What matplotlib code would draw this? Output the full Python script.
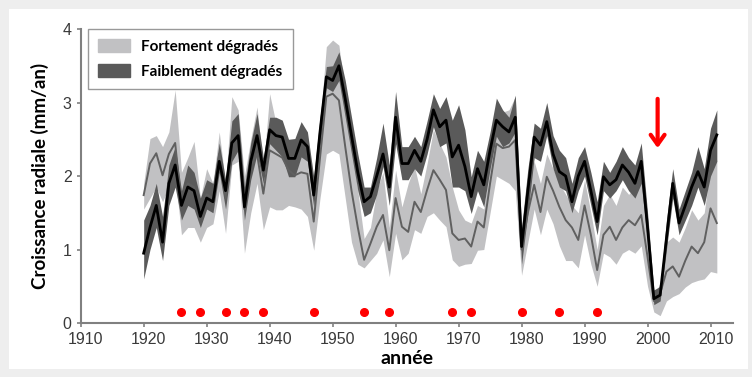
import numpy as np
import matplotlib
matplotlib.use("Agg")
import matplotlib.pyplot as plt
import matplotlib.patches as mpatches
import matplotlib.transforms as mtransforms

# year axis of the series
annees = np.arange(1920, 2012)

# faiblement dégradés (dark band): mean, upper, lower
faible_moy = [0.95, 1.30, 1.60, 1.10, 1.90, 2.15, 1.60, 1.85, 1.80, 1.45,
              1.70, 1.65, 2.20, 1.80, 2.45, 2.55, 1.58, 2.20, 2.55, 2.08,
              2.63, 2.55, 2.53, 2.24, 2.24, 2.49, 2.40, 1.74, 2.60, 3.35,
              3.30, 3.50, 3.05, 2.55, 2.05, 1.65, 1.72, 2.00, 2.30, 1.85,
              2.80, 2.17, 2.17, 2.35, 2.20, 2.50, 2.90, 2.67, 2.76, 2.26,
              2.42, 2.13, 1.72, 2.10, 1.88, 2.35, 2.76, 2.67, 2.60, 2.80,
              1.04, 1.80, 2.53, 2.42, 2.74, 2.30, 2.06, 2.00, 1.65, 2.00,
              2.20, 1.80, 1.38, 1.99, 1.88, 1.95, 2.15, 2.05, 1.90, 2.20,
              1.30, 0.33, 0.38, 1.15, 1.90, 1.36, 1.60, 1.85, 2.06, 1.85,
              2.35, 2.56]
faible_haut = [1.40, 1.60, 1.90, 1.45, 2.15, 2.40, 1.80, 2.15, 2.05, 1.70,
               1.95, 1.90, 2.45, 1.95, 2.75, 2.85, 1.85, 2.45, 2.85, 2.25,
               2.80, 2.80, 2.76, 2.50, 2.51, 2.74, 2.60, 1.99, 2.80, 3.49,
               3.50, 3.69, 3.30, 2.80, 2.30, 1.85, 1.85, 2.25, 2.72, 2.15,
               3.15, 2.40, 2.40, 2.54, 2.40, 2.75, 3.12, 2.92, 3.08, 2.76,
               2.97, 2.63, 1.99, 2.35, 2.20, 2.60, 3.06, 2.90, 2.80, 3.10,
               1.30, 2.10, 2.72, 2.65, 3.00, 2.55, 2.35, 2.25, 1.90, 2.25,
               2.40, 2.05, 1.65, 2.20, 2.05, 2.20, 2.40, 2.25, 2.15, 2.45,
               1.50, 0.45, 0.50, 1.40, 2.10, 1.55, 1.80, 2.05, 2.40, 2.10,
               2.65, 2.90]
faible_bas = [0.60, 1.00, 1.30, 0.85, 1.60, 1.85, 1.40, 1.60, 1.55, 1.30,
              1.55, 1.50, 2.05, 1.55, 2.20, 2.35, 1.40, 1.95, 2.30, 1.90,
              2.44, 2.35, 2.26, 1.99, 1.99, 2.26, 2.20, 1.58, 2.40, 3.20,
              3.15, 3.30, 2.80, 2.30, 1.80, 1.45, 1.50, 1.75, 2.13, 1.60,
              2.44, 1.95, 1.95, 2.10, 2.00, 2.30, 2.67, 2.40, 2.45, 1.85,
              1.85, 1.80, 1.49, 1.80, 1.58, 2.10, 2.54, 2.40, 2.45, 2.60,
              0.80, 1.50, 2.25, 2.20, 2.55, 2.10, 1.85, 1.80, 1.50, 1.80,
              2.00, 1.60, 1.20, 1.80, 1.70, 1.80, 1.95, 1.80, 1.70, 1.90,
              1.10, 0.25, 0.30, 1.00, 1.70, 1.20, 1.40, 1.60, 1.85, 1.60,
              2.00, 2.20]

# fortement dégradés (light band): mean, upper, lower
fort_moy = [1.74, 2.17, 2.31, 2.01, 2.30, 2.45, 1.60, 1.90, 1.85, 1.45,
            1.75, 1.70, 2.30, 1.70, 2.50, 2.50, 1.55, 2.15, 2.30, 1.76,
            2.35, 2.30, 2.25, 2.08, 2.01, 2.05, 2.03, 1.38, 2.25, 3.08,
            3.12, 3.03, 2.40, 1.80, 1.30, 0.86, 1.08, 1.31, 1.47, 0.99,
            1.70, 1.31, 1.24, 1.65, 1.51, 1.81, 2.08, 1.95, 1.81, 1.22,
            1.13, 1.15, 1.04, 1.38, 1.30, 1.90, 2.44, 2.38, 2.40, 2.49,
            1.00, 1.50, 1.88, 1.51, 1.99, 1.80, 1.58, 1.40, 1.30, 1.13,
            1.60, 1.20, 0.72, 1.20, 1.31, 1.13, 1.30, 1.40, 1.33, 1.47,
            0.90, 0.30, 0.40, 0.70, 0.77, 0.63, 0.85, 1.04, 0.95, 1.10,
            1.56, 1.36]
fort_haut = [1.90, 2.51, 2.55, 2.40, 2.60, 3.17, 2.05, 2.25, 2.47, 1.70,
             2.10, 1.90, 2.60, 1.90, 3.08, 2.90, 2.00, 2.50, 2.94, 2.10,
             3.12, 2.72, 2.60, 2.38, 2.35, 2.72, 2.35, 1.63, 2.70, 3.76,
             3.85, 3.78, 3.10, 2.45, 1.80, 1.15, 1.30, 1.80, 2.05, 1.30,
             2.08, 1.58, 1.90, 2.13, 1.76, 2.17, 2.63, 2.44, 2.26, 1.85,
             1.54, 1.40, 1.36, 1.60, 1.55, 2.20, 2.58, 2.87, 2.90, 3.08,
             1.20, 1.90, 2.20, 1.90, 2.30, 2.10, 1.90, 1.75, 1.60, 1.50,
             1.95, 1.50, 1.00, 1.60, 1.75, 1.60, 1.85, 1.75, 1.85, 1.95,
             1.20, 0.35, 0.55, 1.10, 1.17, 1.10, 1.30, 1.54, 1.40, 1.50,
             2.13, 2.22]
fort_bas = [1.55, 1.70, 1.85, 1.65, 1.85, 2.00, 1.20, 1.30, 1.30, 1.10,
            1.30, 1.35, 1.80, 1.22, 2.15, 2.20, 0.95, 1.50, 1.90, 1.27,
            1.58, 1.54, 1.54, 1.60, 1.58, 1.55, 1.45, 0.99, 1.70, 2.30,
            2.35, 2.30, 1.70, 1.10, 0.80, 0.75, 0.85, 0.95, 1.13, 0.63,
            1.22, 0.86, 0.95, 1.27, 1.22, 1.45, 1.50, 1.40, 1.31, 0.86,
            0.77, 0.80, 0.81, 0.99, 1.00, 1.50, 2.00, 1.95, 1.90, 1.80,
            0.65, 1.10, 1.55, 1.20, 1.55, 1.35, 1.05, 0.85, 0.85, 0.75,
            1.20, 0.80, 0.50, 0.95, 0.90, 0.80, 0.95, 1.00, 0.95, 1.05,
            0.50, 0.15, 0.10, 0.30, 0.36, 0.40, 0.49, 0.55, 0.58, 0.60,
            0.70, 0.68]

# pointer years (red dots)
annees_signal = [1926, 1929, 1933, 1936, 1939, 1947, 1955, 1959,
                 1969, 1972, 1980, 1986, 1992]
niveau_signal = 0.15

COULEUR_CLAIR = '#c1c1c3'
COULEUR_FONCE = '#5a5a5a'
POLICE_TEXTE = ['Lato', 'DejaVu Sans']
POLICE_CHIFFRES = ['Liberation Sans', 'DejaVu Sans']

fig = plt.figure(figsize=(7.52, 3.77), dpi=100, facecolor='#eeeeee')
# white card behind the chart
fig.patches.append(mpatches.Rectangle((0.012, 0.02), 0.983, 0.955,
                                      transform=fig.transFigure,
                                      facecolor='white', edgecolor='none',
                                      zorder=-10))
ax = fig.add_axes([0.1073, 0.1432, 0.8677, 0.7798])
ax.set_zorder(1)
ax.set_facecolor('none')

ax.fill_between(annees, fort_bas, fort_haut, color=COULEUR_CLAIR,
                linewidth=0, zorder=1)
ax.fill_between(annees, faible_bas, faible_haut, color=COULEUR_FONCE,
                linewidth=0, zorder=2)
ax.plot(annees, fort_moy, color='#606060', linewidth=1.4, zorder=3)
ax.plot(annees, faible_moy, color='black', linewidth=2.0, zorder=4)

ax.plot(annees_signal, [niveau_signal] * len(annees_signal), 'o',
        color='#ff0000', markersize=5.5, zorder=5)

ax.annotate('', xy=(2001.6, 2.38), xytext=(2001.6, 3.05),
            arrowprops=dict(arrowstyle='->,head_width=0.5,head_length=0.7',
                            color='#ff0000', linewidth=3.0,
                            shrinkA=0, shrinkB=0),
            zorder=6)

ax.set_xlim(1910, 2013.6)
ax.set_ylim(0, 4)
ax.set_xticks(range(1910, 2011, 10))
ax.set_yticks(range(0, 5))
for side in ['top', 'right']:
    ax.spines[side].set_visible(False)
for side in ['left', 'bottom']:
    ax.spines[side].set_color('#808080')
    ax.spines[side].set_linewidth(1.5)
ax.tick_params(axis='both', colors='#808080', length=3, width=1.2,
               labelcolor='#3a3a3a', labelsize=11.5)
decalage = mtransforms.ScaledTranslation(0.05, 0, fig.dpi_scale_trans)
for lab in ax.get_xticklabels():
    lab.set_family(POLICE_CHIFFRES)
    lab.set_transform(lab.get_transform() + decalage)
for lab in ax.get_yticklabels():
    lab.set_family(POLICE_CHIFFRES)

ax.set_xlabel('année', family=POLICE_TEXTE, fontweight='bold',
              fontsize=14, labelpad=2)
ax.set_ylabel('Croissance radiale (mm/an)', family=POLICE_TEXTE,
              fontweight='bold', fontsize=13.5, labelpad=10)

poignees = [mpatches.Patch(color=COULEUR_CLAIR, label='Fortement dégradés'),
            mpatches.Patch(color=COULEUR_FONCE, label='Faiblement dégradés')]
leg = ax.legend(handles=poignees, loc='upper left',
                bbox_to_anchor=(0.011, 1.0), frameon=True, fancybox=False,
                prop={'family': POLICE_TEXTE, 'weight': 'bold', 'size': 11},
                handlelength=2.1, handleheight=0.95, borderpad=0.65,
                labelspacing=0.65, handletextpad=0.75, borderaxespad=0)
leg.get_frame().set_edgecolor('#808080')
leg.get_frame().set_linewidth(1.0)

fig.savefig('out.png', dpi=100, facecolor=fig.get_facecolor())
